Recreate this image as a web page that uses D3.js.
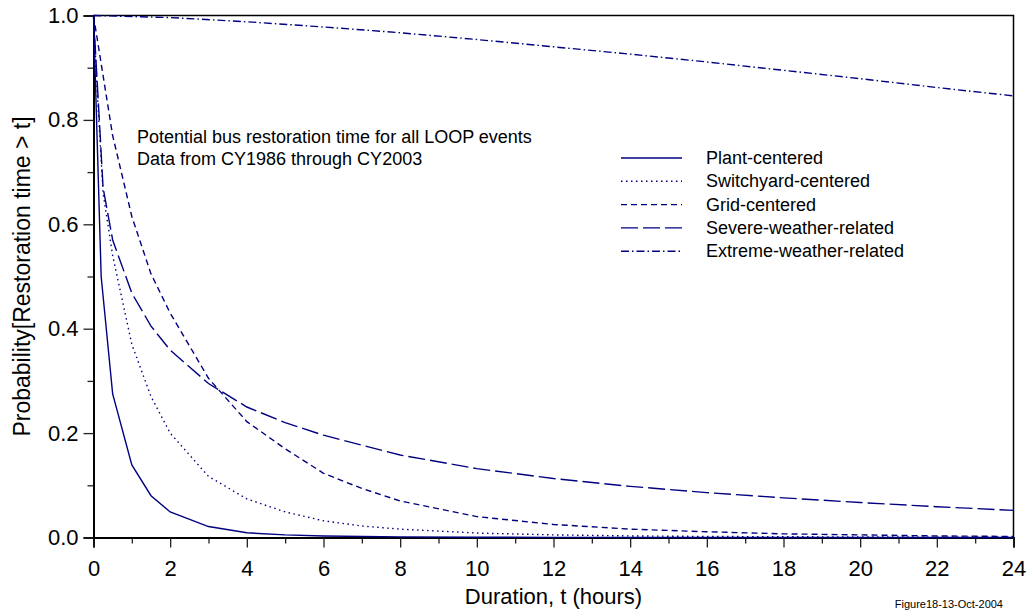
<!DOCTYPE html>
<html>
<head>
<meta charset="utf-8">
<script src="https://cdn.jsdelivr.net/npm/d3@7"></script>
<style>
  body { margin: 0; background: #fff; }
  svg { display: block; font-family: "Liberation Sans", Arial, sans-serif; }
</style>
</head>
<body>
<div id="chart"></div>
<script>
// values (hours, probability)
const plantT = [0, 0.2, 0.5, 1, 1.5, 2, 3, 4, 5, 6, 8, 10, 12, 16, 20, 24];
const plantP = [1, 0.5, 0.275, 0.139, 0.08, 0.049, 0.021, 0.009, 0.005, 0.003, 0.0012, 0.0005, 0.0002, 0.0001, 0, 0];

const switchT = [0, 0.1, 0.25, 0.5, 1, 1.5, 2, 3, 4, 5, 6, 7, 8, 10, 12, 14, 16, 20, 24];
const switchP = [1, 0.85, 0.66, 0.54, 0.37, 0.27, 0.2, 0.117, 0.074, 0.049, 0.032, 0.022, 0.016, 0.0085, 0.005, 0.003, 0.002, 0.001, 0.0005];

const gridT = [0, 0.5, 1, 1.5, 2, 3, 4, 5, 6, 7, 8, 10, 12, 14, 16, 18, 20, 22, 24];
const gridP = [1, 0.77, 0.615, 0.505, 0.43, 0.305, 0.222, 0.17, 0.123, 0.094, 0.07, 0.04, 0.025, 0.016, 0.011, 0.007, 0.005, 0.003, 0.002];

const severeT = [0, 0.25, 0.5, 1, 1.5, 2, 3, 4, 5, 6, 8, 10, 12, 14, 16, 18, 20, 22, 24];
const severeP = [1, 0.67, 0.57, 0.468, 0.405, 0.359, 0.295, 0.25, 0.22, 0.196, 0.158, 0.132, 0.113, 0.098, 0.086, 0.076, 0.067, 0.059, 0.052];

const extremeT = [0, 2, 4, 6, 8, 10, 12, 14, 16, 18, 20, 22, 24];
const extremeP = [1, 0.996, 0.988, 0.978, 0.967, 0.954, 0.94, 0.926, 0.911, 0.895, 0.879, 0.862, 0.846];

const seriesNames = ["Plant-centered", "Switchyard-centered", "Grid-centered", "Severe-weather-related", "Extreme-weather-related"];
const xTicks = [0, 2, 4, 6, 8, 10, 12, 14, 16, 18, 20, 22, 24];
const yTicks = [0, 0.2, 0.4, 0.6, 0.8, 1.0];
const noteLines = ["Potential bus restoration time for all LOOP events", "Data from CY1986 through CY2003"];

// dash styles, one per series
const dashes = [null, "1.5,3.5", "6,4", "17,5", "8,3,1.5,3"];

const svgWidth = 1033, svgHeight = 616;
const margin = { top: 15.5, right: 19.5, bottom: 78.5, left: 93.5 };
const width = svgWidth - margin.left - margin.right,
      height = svgHeight - margin.top - margin.bottom;

const lineColor = "#000080";

const svg = d3.select("#chart").append("svg")
    .attr("width", svgWidth)
    .attr("height", svgHeight);

const g = svg.append("g")
    .attr("transform", `translate(${margin.left},${margin.top})`);

const x = d3.scaleLinear().domain([0, 24]).range([0, width]);
const y = d3.scaleLinear().domain([0, 1]).range([height, 0]);

// frame (top + right)
g.append("path")
    .attr("d", `M0,0H${width}V${height}`)
    .attr("fill", "none")
    .attr("stroke", "#000")
    .attr("stroke-width", 1.5);

// minor ticks
const xAxisMinor = g.append("g")
    .attr("transform", `translate(0,${height})`)
    .call(d3.axisBottom(x).tickValues(d3.range(1, 24, 2)).tickSize(6).tickFormat(""));
const yAxisMinor = g.append("g")
    .call(d3.axisLeft(y).tickValues([0.1, 0.3, 0.5, 0.7, 0.9]).tickSize(6).tickFormat(""));

// major ticks with labels
const xAxis = g.append("g")
    .attr("transform", `translate(0,${height})`)
    .call(d3.axisBottom(x).tickValues(xTicks).tickSize(10).tickPadding(13).tickFormat(d3.format("d")));
const yAxis = g.append("g")
    .call(d3.axisLeft(y).tickValues(yTicks).tickSize(10).tickPadding(5).tickFormat(d3.format(".1f")));

[xAxisMinor, yAxisMinor, xAxis, yAxis].forEach(a => {
    a.select(".domain").attr("stroke", "#000").attr("stroke-width", 2);
    a.selectAll(".tick line").attr("stroke", "#222").attr("stroke-width", 1.3);
    a.selectAll("text")
        .attr("fill", "#000")
        .style("font-family", "'Liberation Sans', Arial, sans-serif")
        .style("font-size", "22px");
});
xAxisMinor.select(".domain").remove();
yAxisMinor.select(".domain").remove();

// the curves
const allT = [plantT, switchT, gridT, severeT, extremeT];
const allP = [plantP, switchP, gridP, severeP, extremeP];

const line = d3.line()
    .x(d => x(d[0]))
    .y(d => y(d[1]));

seriesNames.forEach((name, i) => {
    const pts = allT[i].map((t, j) => [t, allP[i][j]]);
    g.append("path")
        .datum(pts)
        .attr("fill", "none")
        .attr("stroke", lineColor)
        .attr("stroke-width", 1.4)
        .attr("stroke-dasharray", dashes[i])
        .attr("d", line);
});

// annotation
noteLines.forEach((txt, i) => {
    svg.append("text")
        .attr("x", 137)
        .attr("y", 143 + i * 21.5)
        .style("font-size", "18px")
        .attr("fill", "#000")
        .text(txt);
});

// legend
const legend = svg.append("g");
seriesNames.forEach((name, i) => {
    const ly = 158 + i * 23.3;
    legend.append("line")
        .attr("x1", 621).attr("x2", 682)
        .attr("y1", ly).attr("y2", ly)
        .attr("stroke", lineColor)
        .attr("stroke-width", 1.4)
        .attr("stroke-dasharray", dashes[i]);
    legend.append("text")
        .attr("x", 706)
        .attr("y", ly + 6)
        .style("font-size", "18px")
        .attr("fill", "#000")
        .text(name);
});

// axis titles
svg.append("text")
    .attr("x", margin.left + width / 2)
    .attr("y", 604)
    .attr("text-anchor", "middle")
    .style("font-size", "22px")
    .text("Duration, t (hours)");

svg.append("text")
    .attr("transform", `translate(30,${margin.top + height / 2}) rotate(-90)`)
    .attr("text-anchor", "middle")
    .style("font-size", "23px")
    .text("Probability[Restoration time > t]");

svg.append("text")
    .attr("x", 1003)
    .attr("y", 608)
    .attr("text-anchor", "end")
    .style("font-size", "11px")
    .text("Figure18-13-Oct-2004");
</script>
</body>
</html>
